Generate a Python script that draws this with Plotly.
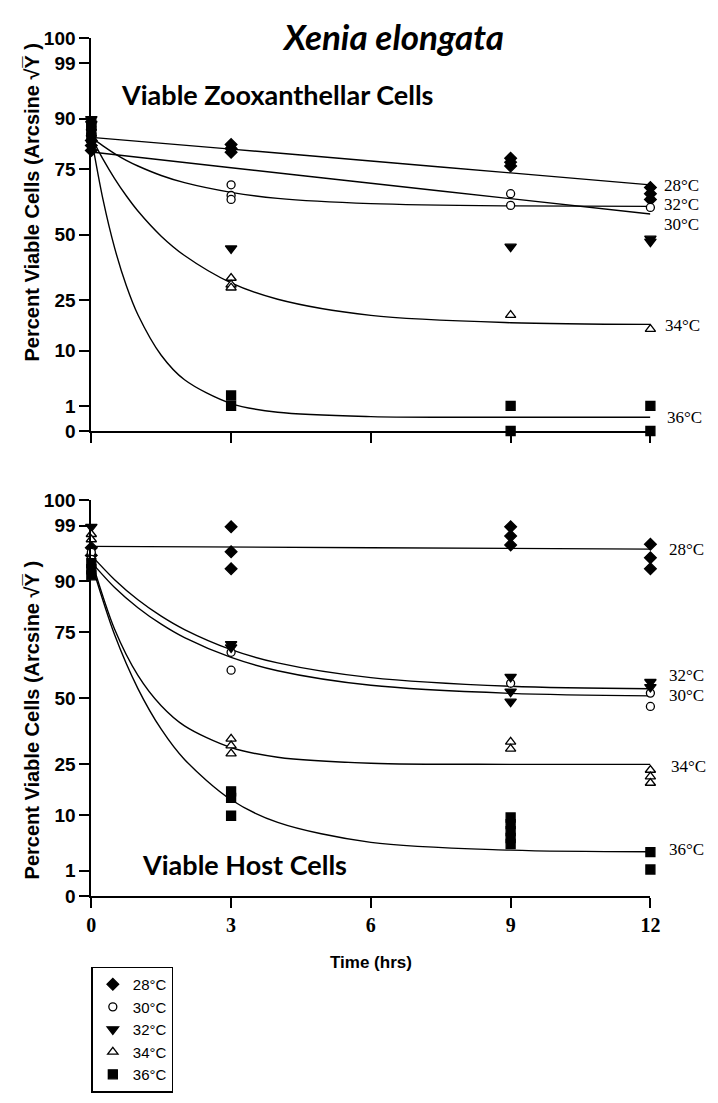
import numpy as np
import plotly.graph_objects as go

W, H = 718, 1103

temps = ["28°C", "30°C", "32°C", "34°C", "36°C"]
tick_pct = [0, 1, 10, 25, 50, 75, 90, 99, 100]
time_ticks = [0, 3, 6, 9, 12]

# ---- Viable zooxanthellar cells (top) : measured points, % viable
zoo_t = {
    "28°C": [0, 0, 0, 3, 3, 3, 9, 9, 9, 12, 12, 12],
    "30°C": [0, 0, 3, 3, 3, 9, 9, 12],
    "32°C": [0, 0, 3, 9, 12, 12],
    "34°C": [0, 0, 3, 3, 3, 9, 12],
    "36°C": [0, 0, 0, 0, 3, 3, 9, 9, 12, 12],
}
zoo_p = {
    "28°C": [84.2, 82.7, 81.2, 83.0, 81.8, 80.6, 78.7, 77.4, 76.1, 68.4, 66.1, 63.9],
    "30°C": [86.9, 85.6, 69.4, 65.4, 63.9, 66.1, 61.6, 60.8],
    "32°C": [89.9, 88.7, 44.5, 45.2, 48.4, 47.2],
    "34°C": [87.7, 86.1, 33.0, 30.5, 29.4, 20.0, 15.7],
    "36°C": [89.2, 88.2, 86.7, 85.0, 2.0, 1.0, 1.0, 0.0, 1.0, 0.0],
}

# fitted curves
zoo_fit_t = {
    "28°C": [0, 3, 6, 9, 12],
    "30°C": [0, 3, 6, 9, 12],
    "32°C": [0, 0.25, 0.5, 0.75, 1, 1.5, 2, 3, 4, 6, 9, 12],
    "34°C": [0, 0.25, 0.5, 0.75, 1, 1.5, 2, 3, 4, 6, 9, 12],
    "36°C": [0, 0.25, 0.5, 0.75, 1, 1.5, 2, 3, 4, 6, 9, 12],
}
zoo_fit_p = {
    "28°C": [85.1, 81.6, 77.8, 73.7, 69.4],
    "30°C": [80.7, 75.5, 70.0, 64.2, 58.2],
    "32°C": [85.1, 82.6, 80.2, 78.0, 76.1, 72.8, 70.2, 66.6, 64.3, 62.3, 61.4, 61.2],
    "34°C": [85.1, 78.4, 71.7, 65.3, 59.4, 49.4, 41.7, 31.2, 25.3, 19.9, 17.6, 17.1],
    "36°C": [85.1, 63.9, 44.7, 30.2, 20.1, 8.9, 4.14, 1.2, 0.56, 0.33, 0.30, 0.30],
}

# ---- Viable host cells (bottom)
host_t = {
    "28°C": [0, 0, 3, 3, 3, 9, 9, 9, 12, 12, 12],
    "30°C": [0, 0, 3, 3, 9, 12, 12],
    "32°C": [0, 3, 3, 9, 9, 9, 12, 12],
    "34°C": [0, 0, 3, 3, 3, 9, 9, 12, 12, 12],
    "36°C": [0, 0, 0, 3, 3, 3, 9, 9, 9, 9, 9, 12, 12],
}
host_p = {
    "28°C": [96.5, 95.3, 98.9, 95.9, 92.8, 98.9, 98.0, 96.9, 97.0, 94.9, 92.8],
    "30°C": [95.8, 94.6, 67.8, 61.0, 55.9, 52.0, 46.7],
    "32°C": [98.9, 70.8, 69.6, 58.4, 52.6, 48.6, 56.4, 54.4],
    "34°C": [98.2, 97.6, 34.1, 31.6, 28.7, 33.0, 30.4, 23.0, 20.8, 18.8],
    "36°C": [93.9, 92.7, 91.4, 16.3, 14.4, 9.8, 9.4, 7.9, 6.5, 5.2, 4.2, 3.0, 1.1],
}

host_fit_t = {
    "28°C": [0, 6, 12],
    "30°C": [0, 0.5, 1, 1.5, 2, 3, 4, 6, 9, 12],
    "32°C": [0, 0.5, 1, 1.5, 2, 3, 4, 6, 9, 12],
    "34°C": [0, 0.5, 1, 1.5, 2, 3, 4, 6, 9, 12],
    "36°C": [0, 0.5, 1, 1.5, 2, 3, 4, 6, 9, 12],
}
host_fit_p = {
    "28°C": [96.7, 96.5, 96.3],
    "30°C": [94.1, 88.5, 82.9, 77.7, 73.1, 65.9, 60.8, 55.1, 51.9, 50.9],
    "32°C": [95.3, 90.4, 85.2, 80.3, 75.9, 68.8, 63.8, 58.1, 54.7, 53.7],
    "34°C": [94.6, 76.0, 59.0, 47.0, 39.1, 30.9, 27.4, 25.3, 24.9, 24.9],
    "36°C": [93.9, 74.1, 53.8, 37.8, 26.6, 13.9, 8.3, 4.45, 3.27, 3.04],
}

symbols = ["diamond", "circle", "triangle-down", "triangle-up", "square"]
fills = ["black", "white", "black", "white", "black"]
sizes = [9, 8, 10, 9, 9]


def arcsine(p):
    return np.degrees(np.arcsin(np.sqrt(np.asarray(p, dtype=float) / 100)))


def px(x):
    return x / W


def py(y):
    return 1 - y / H


fig = go.Figure()

panels = [("x", "y", zoo_t, zoo_p, zoo_fit_t, zoo_fit_p, True),
          ("x2", "y2", host_t, host_p, host_fit_t, host_fit_p, False)]

for xa, ya, pt, pp, ft, fp, first in panels:
    for temp in temps:
        fig.add_trace(go.Scatter(
            x=ft[temp], y=arcsine(fp[temp]), xaxis=xa, yaxis=ya,
            mode="lines", line=dict(color="black", width=1.4, shape="spline", smoothing=0.9),
            showlegend=False, hoverinfo="skip", cliponaxis=False))
    for i, temp in enumerate(temps):
        fig.add_trace(go.Scatter(
            x=pt[temp], y=arcsine(pp[temp]), xaxis=xa, yaxis=ya,
            mode="markers", name=temp, legendgroup=temp, showlegend=first,
            marker=dict(symbol=symbols[i], size=sizes[i], color=fills[i],
                        line=dict(color="black", width=1.3)),
            cliponaxis=False))

x_dom = [px(80), px(651)]
yaxis_common = dict(
    range=[0, 90], tickvals=arcsine(tick_pct), ticktext=[str(v) for v in tick_pct],
    showline=True, linecolor="black", linewidth=2, ticks="outside", ticklen=10,
    tickwidth=2, tickcolor="black", showgrid=False, zeroline=False,
    tickfont=dict(family="Liberation Sans", size=19, color="black", weight="bold"),
)
xaxis_common = dict(
    range=[0, 12], domain=x_dom, tickvals=time_ticks, showline=True, linecolor="black",
    linewidth=2, ticks="outside", ticklen=10, tickwidth=2, tickcolor="black",
    showgrid=False, zeroline=False,
    tickfont=dict(family="Liberation Serif", size=20, color="black", weight="bold"),
)

fig.update_layout(
    width=W, height=H, margin=dict(l=0, r=0, t=0, b=0),
    paper_bgcolor="white", plot_bgcolor="white",
    xaxis=dict(xaxis_common, anchor="y", showticklabels=False),
    yaxis=dict(yaxis_common, anchor="x", domain=[py(421), py(20.7)]),
    xaxis2=dict(xaxis_common, anchor="y2"),
    yaxis2=dict(yaxis_common, anchor="x2", domain=[py(895), py(491.7)]),
    legend=dict(x=px(80), y=py(967), xanchor="left", yanchor="top",
                bordercolor="black", borderwidth=1.5, bgcolor="white",
                font=dict(family="Liberation Sans", size=15, color="black"),
                tracegroupgap=0),
)

annos = [
    dict(x=px(388), y=py(18), text="<b><i>Xenia elongata</i></b>",
         font=dict(family="Lato", size=35, color="black")),
    dict(x=px(270), y=py(78), text="<b>Viable Zooxanthellar Cells</b>",
         font=dict(family="Lato", size=27, color="black")),
    dict(x=px(236), y=py(863), text="<b>Viable Host Cells</b>",
         font=dict(family="Lato", size=27, color="black")),
    dict(x=px(366), y=py(963), text="<b>Time (hrs)</b>",
         font=dict(family="Liberation Sans", size=17, color="black")),
]
ytitle = "<b>Percent Viable Cells (Arcsine \u221aY\u0305 )</b>"
for yc in [188, 716]:
    annos.append(dict(x=px(19.5), y=py(yc), text=ytitle, textangle=-90,
                      font=dict(family="Liberation Sans", size=20, color="black")))

temp_labels = [("28°C", 663, 171), ("32°C", 663, 190), ("30°C", 663, 210),
               ("34°C", 664, 313), ("36°C", 666, 407),
               ("28°C", 668, 542), ("32°C", 668, 670), ("30°C", 668, 691),
               ("34°C", 670, 763), ("36°C", 668, 848)]
for txt, lx, ly in temp_labels:
    annos.append(dict(x=px(lx), y=py(ly), text=txt, xanchor="left",
                      font=dict(family="Liberation Serif", size=17, color="black")))

for a in annos:
    a.setdefault("xanchor", "center")
    a.update(xref="paper", yref="paper", showarrow=False, yanchor="middle")
fig.update_layout(annotations=annos)

fig.write_html("out.html")
